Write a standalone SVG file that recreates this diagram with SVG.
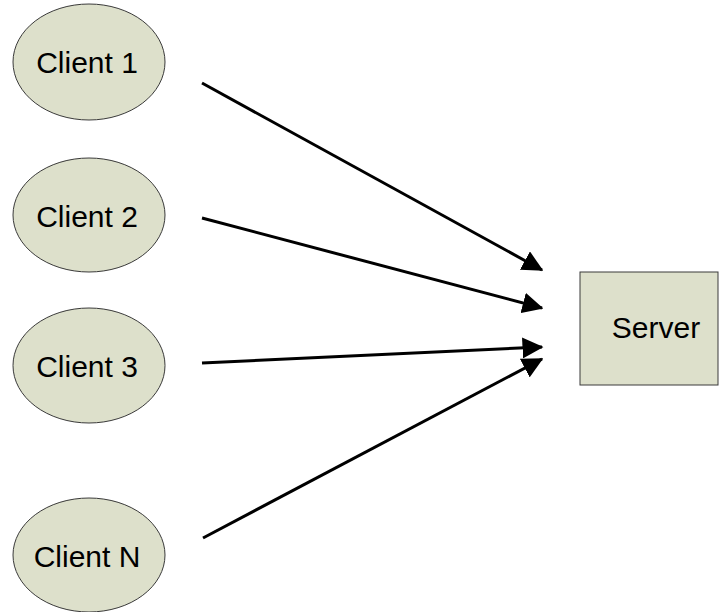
<svg xmlns="http://www.w3.org/2000/svg" width="719" height="612" viewBox="0 0 719 612">
  <style>
    .node { fill: #dde0cb; stroke: #3a3a3a; stroke-width: 1; }
    .label { font-family: "Liberation Sans", Arial, sans-serif; font-size: 30px; fill: #000; text-anchor: middle; }
    .link { stroke: #000; stroke-width: 3; fill: none; marker-end: url(#arrow); }
  </style>
  <defs>
    <marker id="arrow" markerWidth="7" markerHeight="7" refX="6.5" refY="3.5" orient="auto" markerUnits="strokeWidth">
      <path d="M0,0 L7,3.5 L0,7 Z" fill="#000"/>
    </marker>
  </defs>
  <rect width="719" height="612" fill="#fff"/>

  <g id="client1">
    <ellipse class="node" cx="89" cy="62" rx="76" ry="58"/>
    <text class="label" x="87" y="72.5">Client 1</text>
  </g>
  <g id="client2">
    <ellipse class="node" cx="89" cy="215" rx="76" ry="57"/>
    <text class="label" x="87" y="227">Client 2</text>
  </g>
  <g id="client3">
    <ellipse class="node" cx="89" cy="365.5" rx="76" ry="57.5"/>
    <text class="label" x="87" y="377">Client 3</text>
  </g>
  <g id="clientN">
    <ellipse class="node" cx="89" cy="555" rx="76" ry="57"/>
    <text class="label" x="87" y="567">Client N</text>
  </g>
  <g id="server">
    <rect class="node" x="580" y="272" width="138" height="113"/>
    <text class="label" x="656" y="337.5">Server</text>
  </g>

  <g id="connectors">
    <line class="link" x1="202" y1="83" x2="542" y2="270"/>
    <line class="link" x1="202" y1="218" x2="542" y2="308"/>
    <line class="link" x1="202" y1="363" x2="542" y2="347"/>
    <line class="link" x1="203" y1="538" x2="542" y2="359"/>
  </g>
</svg>
